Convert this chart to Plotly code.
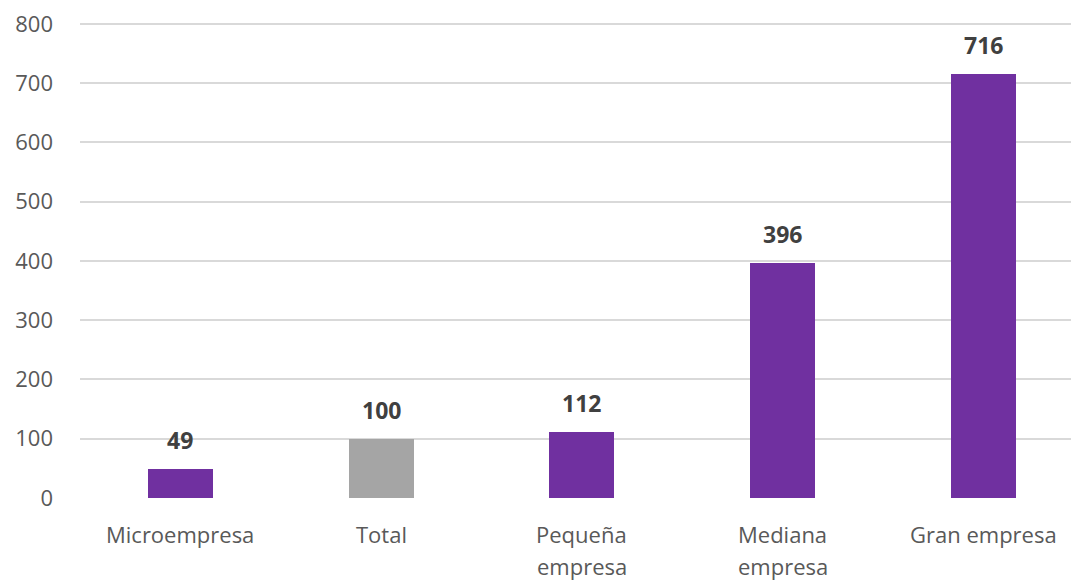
import plotly.graph_objects as go

categories = ["Microempresa", "Total", "Pequeña empresa", "Mediana empresa", "Gran empresa"]
label_lines = [["Microempresa"], ["Total"], ["Pequeña", "empresa"], ["Mediana", "empresa"], ["Gran empresa"]]
values = [49, 100, 112, 396, 716]
bar_colors = ["#7030A0", "#A5A5A5", "#7030A0", "#7030A0", "#7030A0"]
y_ticks = [0, 100, 200, 300, 400, 500, 600, 700, 800]

FONT = "Open Sans, Liberation Sans, sans-serif"

fig = go.Figure()
fig.add_trace(go.Bar(
    x=categories, y=values, marker_color=bar_colors, width=0.324,
    marker_line_width=0, hoverinfo="skip",
))

annotations = []
for c, v in zip(categories, values):
    annotations.append(dict(x=c, y=v, xref="x", yref="y", text=f"<b>{v}</b>",
                            showarrow=False, yanchor="middle", yshift=29,
                            font=dict(family=FONT, size=23, color="#404040")))
for c, lines in zip(categories, label_lines):
    for i, ln in enumerate(lines):
        annotations.append(dict(x=c, y=0, xref="x", yref="y", text=ln,
                                showarrow=False, yanchor="middle", yshift=-36 - 32 * i,
                                font=dict(family=FONT, size=22, color="#595959")))

fig.update_layout(
    width=1079, height=582,
    margin=dict(l=72, r=0, t=13, b=92),
    paper_bgcolor="white", plot_bgcolor="white",
    showlegend=False,
    bargap=0,
    annotations=annotations,
    xaxis=dict(type="category", range=[-0.5, 4.516], showticklabels=False,
               showgrid=False, zeroline=False, showline=False, ticks=""),
    yaxis=dict(range=[0, 805], tickvals=y_ticks, showgrid=True, gridcolor="#D9D9D9",
               gridwidth=1.5, zeroline=False, showline=False, ticks="",
               tickfont=dict(family=FONT, size=22, color="#595959"),
               ticklabelstandoff=26, ticklabeloverflow="allow"),
)

fig.write_html("out.html")
